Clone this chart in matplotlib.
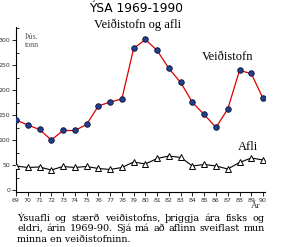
import matplotlib
matplotlib.use('Agg')
import matplotlib.pyplot as plt

# Ár (1969-1990)
years = list(range(69, 91))
yearLabels = [str(y) for y in years]

# Veiðistofn, þús. tonn
stock = [141, 131, 122, 101, 120, 120, 132, 169, 177, 183, 284, 302,
         280, 244, 216, 176, 152, 126, 163, 240, 234, 184]

# Afli, þús. tonn
catch = [49, 46, 47, 41, 48, 46, 48, 44, 42, 46, 57, 53,
         64, 69, 66, 49, 52, 49, 43, 56, 65, 61]

yTicks = [0, 50, 100, 150, 200, 250, 300]

captionLines = [
    'Ýsuafli og stærð veiðistofns, þriggja ára fisks og',
    'eldri, árin 1969-90. Sjá má að aflinn sveiflast mun',
    'minna en veiðistofninn.',
]

SERIF = 'Liberation Serif'
CAPTION_FONT = 'DejaVu Serif'
NARROW = ['Liberation Sans Narrow', 'DejaVu Sans Condensed', 'DejaVu Sans']

fig = plt.figure(figsize=(2.87, 2.47), dpi=100)
ax = fig.add_axes([0.0557, 0.2227, 0.869, 0.668])

ax.plot(years, stock, color='#dd0000', lw=0.9, marker='o', ms=4,
        mfc='#1f3f8f', mec='#111133', mew=0.6, zorder=3)
ax.plot(years, catch, color='black', lw=0.8, marker='^', ms=4.5,
        mfc='white', mec='black', mew=0.7, zorder=3)

ax.set_xlim(69, 90.2)
ax.set_ylim(-3, 327)
ax.set_xticks(years)
ax.set_xticklabels(yearLabels, family=NARROW)
ax.set_yticks(yTicks)
ax.set_yticklabels([str(t) for t in yTicks], family=NARROW)
ax.set_yticks(range(25, 327, 50), minor=True)

for side in ['top', 'right']:
    ax.spines[side].set_visible(False)
for side in ['left', 'bottom']:
    ax.spines[side].set_linewidth(0.8)

ax.tick_params(axis='both', labelsize=4.5, labelcolor='#333333',
               length=3, width=0.6, pad=1)
ax.tick_params(axis='y', which='minor', direction='in', length=2, width=0.6)

ax.text(89.4, -31, 'Ár', fontsize=6.5, family=SERIF, ha='center', va='center',
        color='#333333', clip_on=False)

ax.text(0.064, 0.962, 'Þús.\ntonn', transform=ax.transAxes, fontsize=5.8,
        family=SERIF, color='#555555', ha='center', va='top', linespacing=0.95)

ax.text(0.85, 0.818, 'Veiðistofn', transform=ax.transAxes, fontsize=9,
        family=SERIF, ha='center', va='center')
ax.text(0.93, 0.273, 'Afli', transform=ax.transAxes, fontsize=9,
        family=SERIF, ha='center', va='center')

fig.text(0.474, 0.965, 'ÝSA 1969-1990', fontsize=8.8, ha='center', va='center')
fig.text(0.481, 0.899, 'Veiðistofn og afli', fontsize=9, family=SERIF,
         ha='center', va='center')

# Caption, justified like the printed text (last line left aligned)
renderer = fig.canvas.get_renderer()
xLeft, xRight = 17 / 287, 265 / 287
lineY = [1 - 218 / 247, 1 - 228.5 / 247, 1 - 239 / 247]


def widthOf(s, size):
    t = fig.text(0, 0, s, fontsize=size, family=CAPTION_FONT)
    w = t.get_window_extent(renderer).width
    t.remove()
    return w


# size the caption so the longest line nearly fills the column
capSize = 9 * 245 / max(widthOf(captionLines[0], 9), widthOf(captionLines[1], 9))

for i, line in enumerate(captionLines):
    if i == len(captionLines) - 1:
        fig.text(xLeft, lineY[i], line, fontsize=capSize, family=CAPTION_FONT,
                 ha='left', va='center')
        continue
    words = line.split(' ')
    texts = [fig.text(0, lineY[i], w, fontsize=capSize, family=CAPTION_FONT,
                      ha='left', va='center') for w in words]
    widths = [t.get_window_extent(renderer).width / fig.bbox.width for t in texts]
    gap = (xRight - xLeft - sum(widths)) / (len(words) - 1)
    x = xLeft
    for t, w in zip(texts, widths):
        t.set_x(x)
        x += w + gap

fig.savefig('out.png', dpi=100)
